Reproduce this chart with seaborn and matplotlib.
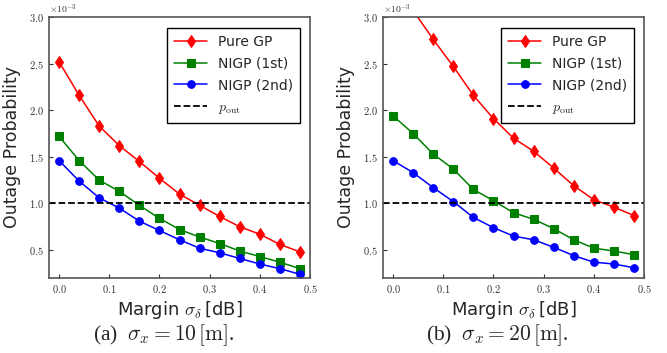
import numpy as np
import pandas as pd
import matplotlib
matplotlib.use("Agg")
import matplotlib.pyplot as plt
import seaborn as sns

# margin sigma_delta [dB]
margin = [0.00, 0.04, 0.08, 0.12, 0.16, 0.20, 0.24, 0.28, 0.32, 0.36, 0.40, 0.44, 0.48]

# outage probability, in units of 1e-3
# (a) sigma_x = 10 m
pure_gp_a = [2.52, 2.16, 1.83, 1.62, 1.45, 1.27, 1.10, 0.98, 0.86, 0.75, 0.67, 0.56, 0.48]
nigp1_a = [1.72, 1.46, 1.25, 1.13, 0.98, 0.84, 0.72, 0.64, 0.57, 0.49, 0.43, 0.37, 0.30]
nigp2_a = [1.46, 1.24, 1.06, 0.95, 0.81, 0.71, 0.61, 0.52, 0.47, 0.41, 0.35, 0.30, 0.24]
# (b) sigma_x = 20 m
pure_gp_b = [3.40, 3.07, 2.76, 2.47, 2.16, 1.91, 1.70, 1.56, 1.38, 1.19, 1.04, 0.96, 0.87]
nigp1_b = [1.94, 1.75, 1.53, 1.37, 1.15, 1.03, 0.90, 0.83, 0.73, 0.61, 0.52, 0.49, 0.45]
nigp2_b = [1.46, 1.33, 1.17, 1.02, 0.85, 0.74, 0.65, 0.61, 0.53, 0.44, 0.37, 0.35, 0.31]

p_out = 1.0
series_names = ["Pure GP", "NIGP (1st)", "NIGP (2nd)"]
captions = [r"(a)  $\sigma_x = 10\,[\mathrm{m}]$.", r"(b)  $\sigma_x = 20\,[\mathrm{m}]$."]
xticks = [0.0, 0.1, 0.2, 0.3, 0.4, 0.5]
yticks = [0.5, 1.0, 1.5, 2.0, 2.5, 3.0]

sns.set_style("ticks")
plt.rcParams["font.family"] = ["DejaVu Sans"]
plt.rcParams["mathtext.fontset"] = "cm"

colors = ["red", "green", "blue"]
markers = ["d", "s", "o"]
msizes = [6, 5.5, 5.5]

fig = plt.figure(figsize=(6.67, 3.53), dpi=100)
ax_a = fig.add_axes([49 / 667, 1 - 278 / 353, 261 / 667, 261 / 353])
ax_b = fig.add_axes([383 / 667, 1 - 278 / 353, 261 / 667, 261 / 353])

panels = [
    (ax_a, [pure_gp_a, nigp1_a, nigp2_a]),
    (ax_b, [pure_gp_b, nigp1_b, nigp2_b]),
]

for i, (ax, data) in enumerate(panels):
    for name, vals, c, m, ms in zip(series_names, data, colors, markers, msizes):
        sns.lineplot(x=margin, y=vals, ax=ax, color=c, marker=m, markersize=ms,
                     markeredgecolor=c, linewidth=1.1, label=name)
    ax.axhline(p_out, color="black", linestyle="--", linewidth=1.3,
               label=r"$p_{\mathrm{out}}$")

    ax.set_xlim(-0.02, 0.5)
    ax.set_ylim(0.2, 3.0)
    ax.set_xticks(xticks)
    ax.set_yticks(yticks)
    ax.set_xticklabels([f"${v:.1f}$" for v in xticks])
    ax.set_yticklabels([f"${v:.1f}$" for v in yticks])
    ax.tick_params(direction="in", labelsize=7.5, length=3, width=0.8, colors="#333333",
                   labelcolor="#333333")
    for sp in ax.spines.values():
        sp.set_color("#555555")
        sp.set_linewidth(1.2)
    ax.text(0.0, 1.005, r"$\times10^{-3}$", transform=ax.transAxes,
            fontsize=7, color="#333333", ha="left", va="bottom")

    ax.set_xlabel(r"Margin $\sigma_\delta\,$[dB]", fontsize=13, labelpad=3)
    ax.set_ylabel("Outage Probability", fontsize=12.5, labelpad=6)

    leg = ax.legend(loc="upper right", fontsize=10, frameon=True, fancybox=False,
                    edgecolor="black", framealpha=1, borderpad=0.5, handlelength=2.4,
                    labelspacing=0.55, bbox_to_anchor=(0.99, 0.985))
    leg.get_frame().set_linewidth(1.0)

    pos = ax.get_position()
    fig.text(pos.x0 + pos.width * 0.44, 1 - 335 / 353, captions[i],
             ha="center", va="center", fontsize=15.5, family="Liberation Serif")

fig.savefig("out.png", dpi=100)
